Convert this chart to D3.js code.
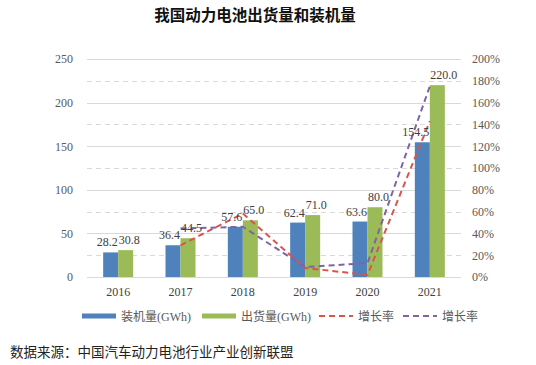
<!DOCTYPE html>
<html><head><meta charset="utf-8">
<script src="https://cdn.jsdelivr.net/npm/d3@7"></script>
<style>body{margin:0;background:#fff}svg{display:block}</style>
</head><body>
<svg id="c" width="536" height="365"></svg>
<script>
const years = ["2016","2017","2018","2019","2020","2021"];
const installed = [28.2, 36.4, 57.6, 62.4, 63.6, 154.5];
const shipped = [30.8, 44.5, 65.0, 71.0, 80.0, 220.0];
const growthYears = ["2017","2018","2019","2020","2021"];
const installedGrowth = [29.1, 58.2, 8.3, 1.9, 142.9];
const shippedGrowth = [44.5, 46.1, 9.2, 12.7, 175.0];
const leftTicks = [0, 50, 100, 150, 200, 250];
const rightTicks = [0, 20, 40, 60, 80, 100, 120, 140, 160, 180, 200];
const title = "我国动力电池出货量和装机量";
const source = "数据来源：中国汽车动力电池行业产业创新联盟";
const legendLabels = ["装机量(GWh)", "出货量(GWh)", "增长率", "增长率"];

const svg = d3.select("#c");
const L = 87, R = 461, T = 59, B = 277;
const x = d3.scaleBand().domain(years).range([L, R]);
const y = d3.scaleLinear().domain([0, 250]).range([B, T]);
const y2 = d3.scaleLinear().domain([0, 200]).range([B, T]);
const fontSerif = "'Liberation Serif','Noto Sans CJK SC',serif";
const blue = "#4f81bd", green = "#9bbb59", red = "#d9544f", purple = "#8064a2";

svg.append("text").attr("x", 255).attr("y", 21).attr("text-anchor", "middle")
  .attr("font-family", "'Noto Sans CJK SC'").attr("font-weight", "bold")
  .attr("font-size", 15.5).attr("fill", "#111").text(title);

// gridlines
rightTicks.forEach(t => {
  const yy = Math.round(y2(t)) + 0.5;
  const solid = t % 40 === 0;
  svg.append("line").attr("x1", L).attr("x2", R).attr("y1", yy).attr("y2", yy)
    .attr("stroke", "#d9d9d9").attr("stroke-width", 1)
    .attr("stroke-dasharray", solid ? null : "5,4");
});

// left axis
const gl = svg.append("g").attr("transform", `translate(${L},0)`)
  .call(d3.axisLeft(y).tickValues(leftTicks).tickSize(0).tickPadding(14));
gl.select(".domain").remove();
gl.selectAll("text").attr("font-family", fontSerif).attr("font-size", 12).attr("fill", "#595959");

// right axis
const gr = svg.append("g").attr("transform", `translate(${R},0)`)
  .call(d3.axisRight(y2).tickValues(rightTicks).tickFormat(d => d + "%").tickSize(0).tickPadding(11));
gr.select(".domain").remove();
gr.selectAll("text").attr("font-family", fontSerif).attr("font-size", 12).attr("fill", "#595959");

// x axis
const gx = svg.append("g").attr("transform", `translate(0,${B})`)
  .call(d3.axisBottom(x).tickSize(0).tickPadding(10));
gx.select(".domain").remove();
gx.selectAll("text").attr("font-family", fontSerif).attr("font-size", 12).attr("fill", "#404040");

const bw = 15;
const cx = d => x(d) + x.bandwidth() / 2;
svg.selectAll(".b1").data(years).enter().append("rect")
  .attr("x", d => cx(d) - bw).attr("width", bw)
  .attr("y", (d, i) => y(installed[i])).attr("height", (d, i) => B - y(installed[i]))
  .attr("fill", blue);
svg.selectAll(".b2").data(years).enter().append("rect")
  .attr("x", d => cx(d)).attr("width", bw)
  .attr("y", (d, i) => y(shipped[i])).attr("height", (d, i) => B - y(shipped[i]))
  .attr("fill", green);

// lines
const line = d3.line().x(d => cx(d[0])).y(d => y2(d[1]));
svg.append("path").datum(growthYears.map((g, i) => [g, installedGrowth[i]]))
  .attr("d", line).attr("fill", "none").attr("stroke", red).attr("stroke-width", 2)
  .attr("stroke-dasharray", "6,4");
svg.append("path").datum(growthYears.map((g, i) => [g, shippedGrowth[i]]))
  .attr("d", line).attr("fill", "none").attr("stroke", purple).attr("stroke-width", 2)
  .attr("stroke-dasharray", "6,4");

// data labels
svg.selectAll(".l1").data(years).enter().append("text")
  .attr("x", d => cx(d) - 0.5).attr("y", (d, i) => y(installed[i]) - 6)
  .attr("text-anchor", "end").attr("font-family", fontSerif).attr("font-size", 12)
  .attr("fill", "#404040").text((d, i) => installed[i].toFixed(1));
svg.selectAll(".l2").data(years).enter().append("text")
  .attr("x", d => cx(d) + 0.5).attr("y", (d, i) => y(shipped[i]) - 6)
  .attr("text-anchor", "start").attr("font-family", fontSerif).attr("font-size", 12)
  .attr("fill", "#404040").text((d, i) => shipped[i].toFixed(1));

// legend
const ly = 316;
const items = [
  {x: 82, c: blue, dash: null, w: 5},
  {x: 202, c: green, dash: null, w: 5},
  {x: 319, c: red, dash: "6,4", w: 2},
  {x: 403, c: purple, dash: "6,4", w: 2}
];
items.forEach((it, i) => {
  svg.append("line").attr("x1", it.x).attr("x2", it.x + 34).attr("y1", ly).attr("y2", ly)
    .attr("stroke", it.c).attr("stroke-width", it.w).attr("stroke-dasharray", it.dash);
  svg.append("text").attr("x", it.x + 39).attr("y", ly + 4.5)
    .attr("font-family", fontSerif).attr("font-size", 12).attr("fill", "#595959")
    .text(legendLabels[i]);
});

svg.append("text").attr("x", 10).attr("y", 357)
  .attr("font-family", "'Noto Sans CJK SC'").attr("font-size", 13.5).attr("fill", "#222")
  .text(source);
</script>
</body></html>
